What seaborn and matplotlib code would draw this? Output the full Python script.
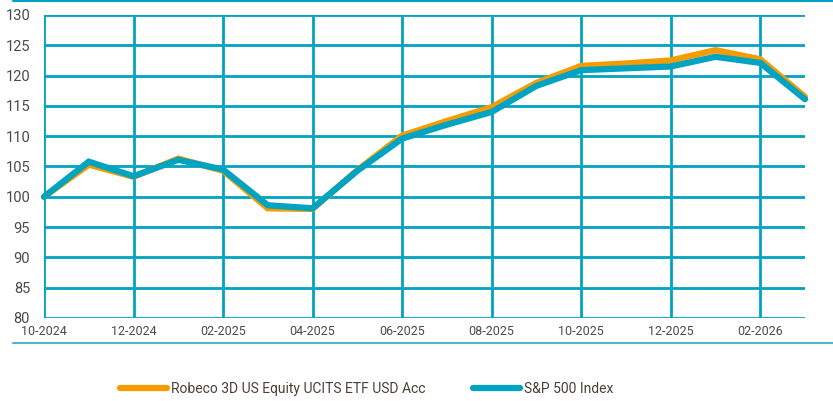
import pandas as pd
import seaborn as sns
import matplotlib.pyplot as plt
from matplotlib.lines import Line2D

months = ['10-2024', '11-2024', '12-2024', '01-2025', '02-2025', '03-2025',
          '04-2025', '05-2025', '06-2025', '07-2025', '08-2025', '09-2025',
          '10-2025', '11-2025', '12-2025', '01-2026', '02-2026', '03-2026']
robeco = [100.0, 105.3, 103.3, 106.3, 104.3, 98.1, 98.0, 104.4, 110.1, 112.5,
          114.8, 118.8, 121.6, 122.0, 122.5, 124.2, 122.7, 116.5]
sp500 = [100.0, 105.8, 103.4, 106.1, 104.5, 98.6, 98.1, 104.3, 109.6, 111.9,
         114.0, 118.3, 120.9, 121.2, 121.5, 123.1, 122.1, 116.1]
names = ['Robeco 3D US Equity UCITS ETF USD Acc', 'S&P 500 Index']

TEAL = '#00a3c1'
ORANGE = '#f59c00'
TEXT = '#4a4034'

df = pd.DataFrame({'month': months, names[0]: robeco, names[1]: sp500})
df['pos'] = range(len(df))
long_df = df.melt(id_vars=['month', 'pos'], var_name='series', value_name='value')

sns.set_style('white')
plt.rcParams['font.family'] = ['Roboto', 'DejaVu Sans']

fig = plt.figure(figsize=(8.33, 4.01), dpi=100)
ax = fig.add_axes([44 / 833, 83 / 401, (805 - 44) / 833, (318 - 15) / 401])

sns.lineplot(data=long_df, x='pos', y='value', hue='series',
             palette={names[0]: ORANGE, names[1]: TEAL},
             linewidth=4.5, legend=False, ax=ax, zorder=3)
for ln in ax.get_lines():
    ln.set_clip_on(False)
    ln.set_solid_joinstyle('miter')

ax.set_xlim(0, len(months) - 1)
ax.set_ylim(80, 130)
ax.set_yticks(range(80, 131, 5))
ax.set_xticks(range(0, len(months), 2))
ax.set_xticklabels(months[::2])
ax.set_xlabel('')
ax.set_ylabel('')
for s in ax.spines.values():
    s.set_visible(False)
ax.grid(True, color=TEAL, linewidth=2)
ax.set_axisbelow(True)
ax.tick_params(axis='y', length=0, pad=10, labelsize=10.5, labelcolor='#4a4a4a')
ax.tick_params(axis='x', length=0, pad=5, labelsize=9, labelcolor='#4a4a4a')

# thin rules above and below the chart
fig.add_artist(Line2D([13 / 833, 1], [1 - 1 / 401, 1 - 1 / 401], color=TEAL, lw=1.5))
fig.add_artist(Line2D([13 / 833, 1], [1 - 343 / 401, 1 - 343 / 401], color='#4bb8cf', lw=1.5))

# one legend entry per series, placed where the reference has them
starts = [120 / 833, 473 / 833]
colors = [ORANGE, TEAL]
for name, color, x0 in zip(names, colors, starts):
    h = Line2D([], [], color=color, lw=4.5, solid_capstyle='round')
    leg = fig.legend([h], [name], loc='center left', bbox_to_anchor=(x0, 1 - 389 / 401),
                     frameon=False, handlelength=3.4, handletextpad=0.3,
                     borderpad=0, borderaxespad=0, fontsize=10, labelcolor=TEXT)

fig.savefig('out.png', dpi=100)
